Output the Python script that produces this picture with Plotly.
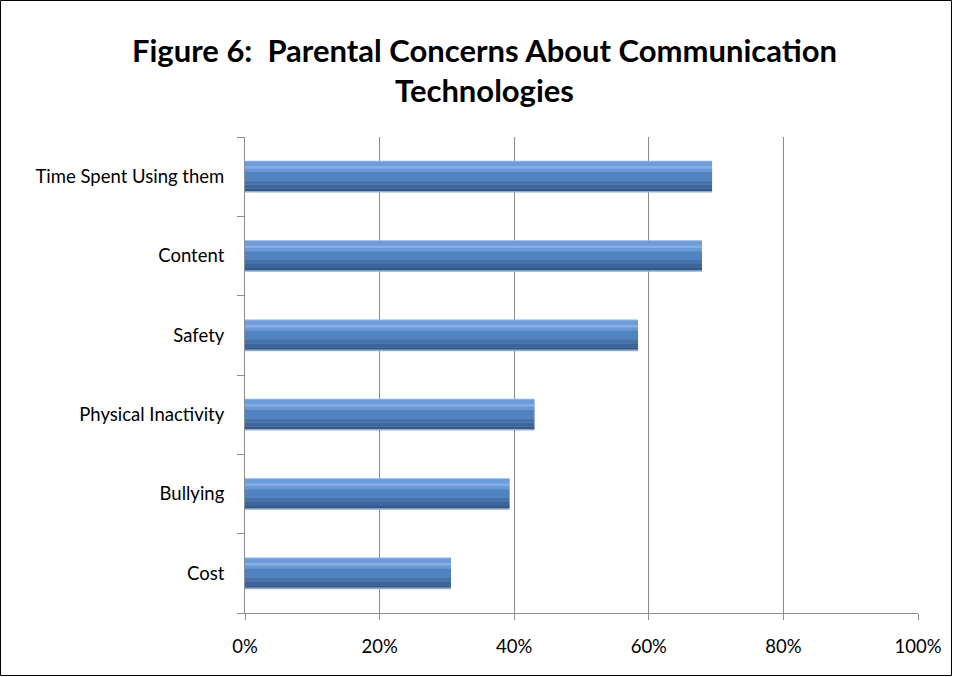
import plotly.graph_objects as go

categories = ["Time Spent Using them", "Content", "Safety", "Physical Inactivity", "Bullying", "Cost"]
values = [0.694, 0.679, 0.584, 0.430, 0.393, 0.306]
x_ticks = [0, 0.2, 0.4, 0.6, 0.8, 1.0]
x_tick_labels = ["0%", "20%", "40%", "60%", "80%", "100%"]
title_text = "<b>Figure 6:  Parental Concerns About Communication<br>Technologies</b>"

W, H = 953, 677
ml, mr, mt, mb = 245, 35, 137, 64
FONT = "Lato, Carlito, Calibri, sans-serif"

fig = go.Figure()
# layered stripes (bottom edge of stripe, thickness, colour) imitating the bevelled gradient bars
layers = [
    (-0.20, 0.40, "#8FAED6"),
    (0.13, 0.055, "#6C9CDB"),
    (0.10, 0.03, "#86AEE4"),
    (0.06, 0.04, "#6A98D6"),
    (-0.05, 0.11, "#5183C1"),
    (-0.10, 0.05, "#4672AC"),
    (-0.15, 0.05, "#3D659B"),
    (-0.18, 0.03, "#33588A"),
]
for off, wd, col in layers:
    fig.add_trace(go.Bar(y=categories, x=values, orientation="h", width=wd, offset=off,
                         marker=dict(color=col, line=dict(width=0)),
                         hoverinfo="skip", showlegend=False))

fig.update_layout(
    width=W, height=H,
    margin=dict(l=ml, r=mr, t=mt, b=mb),
    paper_bgcolor="white", plot_bgcolor="white",
    barmode="overlay",
    font=dict(family=FONT, size=18.5, color="#000000"),
    title=dict(text=title_text, x=0.5 + 8 / W, xref="container", xanchor="center",
               y=1 - 62 / H, yref="container", yanchor="top",
               font=dict(family=FONT, size=31, color="#000000")),
    xaxis=dict(range=[0, 1], tickvals=x_ticks, ticktext=x_tick_labels,
               showgrid=True, gridcolor="#8C8C8C", gridwidth=1,
               showline=True, linecolor="#8C8C8C", linewidth=1,
               ticks="outside", ticklen=6, tickcolor="#8C8C8C",
               zeroline=False, fixedrange=True, ticklabelstandoff=11),
    yaxis=dict(categoryorder="array", categoryarray=categories[::-1],
               showgrid=False, showline=True, linecolor="#8C8C8C", linewidth=1,
               ticks="outside", ticklen=7, tickcolor="#8C8C8C", tickson="boundaries",
               ticklabelstandoff=16, fixedrange=True),
    shapes=[dict(type="rect", xref="paper", yref="paper",
                 x0=-(ml - 0.5) / (W - ml - mr), x1=1 + (mr - 1.5) / (W - ml - mr),
                 y0=-(mb - 1.5) / (H - mt - mb), y1=1 + (mt - 0.5) / (H - mt - mb),
                 line=dict(color="#000000", width=1), layer="above")],
)

fig.write_html("out.html", config={"displayModeBar": False},
               post_script="document.body.style.margin='0';document.body.style.overflow='hidden';")
